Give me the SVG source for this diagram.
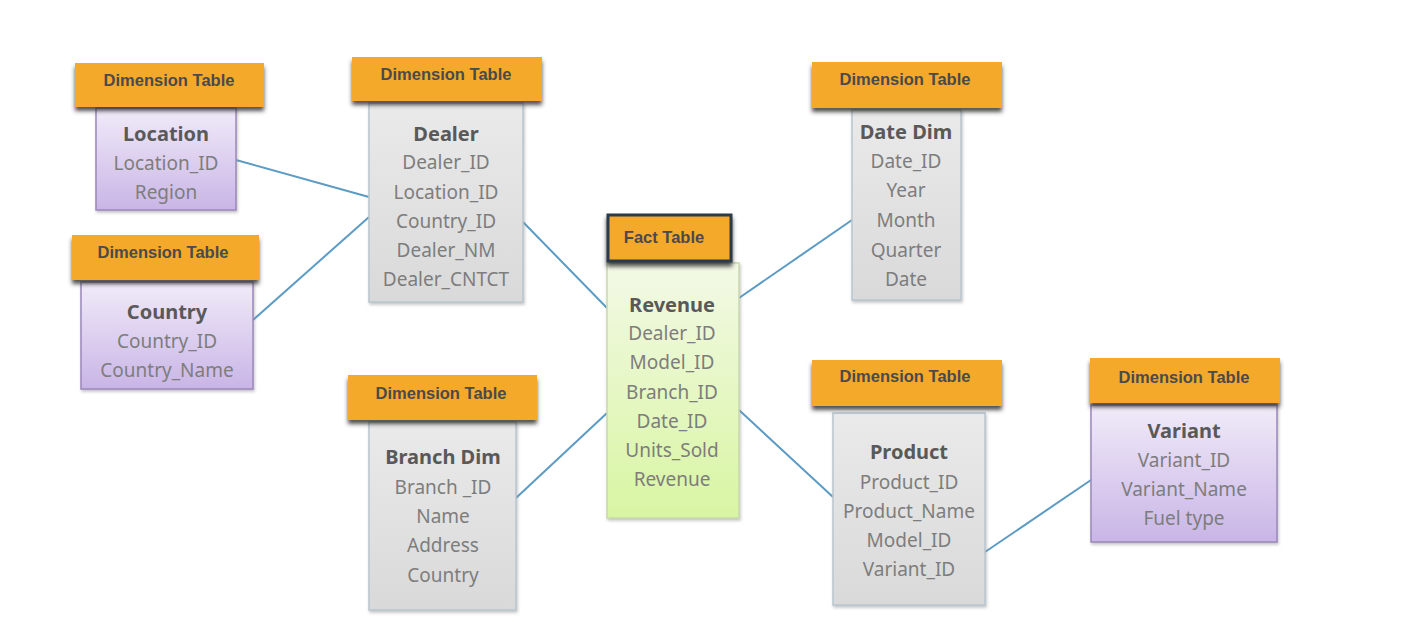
<svg xmlns="http://www.w3.org/2000/svg" width="1428" height="626" viewBox="0 0 1428 626">
<defs>
<linearGradient id="gGray" x1="0" y1="0" x2="0" y2="1"><stop offset="0" stop-color="#eaeaea"/><stop offset="1" stop-color="#d9d9d9"/></linearGradient>
<linearGradient id="gPurple" x1="0" y1="0" x2="0" y2="1"><stop offset="0" stop-color="#f1ebf9"/><stop offset="1" stop-color="#c9b5e6"/></linearGradient>
<linearGradient id="gGreen" x1="0" y1="0" x2="0" y2="1"><stop offset="0" stop-color="#f3f9e6"/><stop offset="1" stop-color="#d8f5a2"/></linearGradient>
<filter id="sh" x="-10%" y="-20%" width="125%" height="160%"><feDropShadow dx="0" dy="4" stdDeviation="2" flood-color="#333" flood-opacity="0.85"/></filter>
<filter id="bs" x="-10%" y="-10%" width="125%" height="125%"><feDropShadow dx="1" dy="2" stdDeviation="1.5" flood-color="#888" flood-opacity="0.5"/></filter>
</defs>
<style>
.hdr{fill:#f5a92a;filter:url(#sh)}
.hdrf{fill:#f5a92a;stroke:#2b3a48;stroke-width:3;filter:url(#sh)}
.ht{font-family:"Liberation Sans",Arial,sans-serif;font-weight:bold;font-size:16.5px;fill:#4a4a4a;text-anchor:middle}
.gray{fill:url(#gGray);stroke:#b9c6cf;stroke-width:1.5;filter:url(#bs)}
.purple{fill:url(#gPurple);stroke:#9b88bb;stroke-width:1.5;filter:url(#bs)}
.green{fill:url(#gGreen);stroke:#c9d9b0;stroke-width:1.5;filter:url(#bs)}
.tt{font-family:"Noto Sans","Open Sans",sans-serif;font-weight:bold;font-size:20px;fill:#595959;text-anchor:middle}
.ft{font-family:"Noto Sans","Open Sans",sans-serif;font-size:19px;fill:#7d7d7d;text-anchor:middle}
.con{stroke:#5b9bc4;stroke-width:2;fill:none}
</style>
<rect width="1428" height="626" fill="#ffffff"/>
<g id="connectors">
<line class="con" x1="236" y1="160" x2="369" y2="197"/>
<line class="con" x1="253" y1="320" x2="369" y2="217"/>
<line class="con" x1="523" y1="222" x2="607" y2="308"/>
<line class="con" x1="516" y1="498" x2="607" y2="413"/>
<line class="con" x1="739" y1="298" x2="852" y2="220"/>
<line class="con" x1="739" y1="410" x2="833" y2="497"/>
<line class="con" x1="985" y1="552" x2="1091" y2="480"/>
</g>
<g id="location">
<rect class="purple" x="96" y="108" width="140" height="102"/>
<rect class="hdr" x="75" y="63" width="189" height="44"/>
<text class="ht" x="169" y="86">Dimension Table</text>
<text class="tt" x="166" y="141">Location</text>
<text class="ft" x="166" y="170">Location_ID</text>
<text class="ft" x="166" y="199">Region</text>
</g>
<g id="country">
<rect class="purple" x="81" y="282" width="172" height="107"/>
<rect class="hdr" x="72" y="235" width="187" height="45"/>
<text class="ht" x="163" y="258">Dimension Table</text>
<text class="tt" x="167" y="319">Country</text>
<text class="ft" x="167" y="348">Country_ID</text>
<text class="ft" x="167" y="377">Country_Name</text>
</g>
<g id="dealer">
<rect class="gray" x="369" y="103" width="154" height="199"/>
<rect class="hdr" x="352" y="57" width="190" height="44"/>
<text class="ht" x="446" y="80">Dimension Table</text>
<text class="tt" x="446" y="141">Dealer</text>
<text class="ft" x="446" y="169">Dealer_ID</text>
<text class="ft" x="446" y="199">Location_ID</text>
<text class="ft" x="446" y="228">Country_ID</text>
<text class="ft" x="446" y="257">Dealer_NM</text>
<text class="ft" x="446" y="286">Dealer_CNTCT</text>
</g>
<g id="fact">
<rect class="green" x="607" y="263" width="132" height="255"/>
<rect class="hdrf" x="608" y="215" width="123" height="46"/>
<text class="ht" x="664" y="243">Fact Table</text>
<text class="tt" x="672" y="312">Revenue</text>
<text class="ft" x="672" y="340">Dealer_ID</text>
<text class="ft" x="672" y="369">Model_ID</text>
<text class="ft" x="672" y="399">Branch_ID</text>
<text class="ft" x="672" y="428">Date_ID</text>
<text class="ft" x="672" y="457">Units_Sold</text>
<text class="ft" x="672" y="486">Revenue</text>
</g>
<g id="datedim">
<rect class="gray" x="852" y="110" width="109" height="190"/>
<rect class="hdr" x="812" y="62" width="190" height="46"/>
<text class="ht" x="905" y="85">Dimension Table</text>
<text class="tt" x="906" y="139">Date Dim</text>
<text class="ft" x="906" y="168">Date_ID</text>
<text class="ft" x="906" y="197">Year</text>
<text class="ft" x="906" y="227">Month</text>
<text class="ft" x="906" y="257">Quarter</text>
<text class="ft" x="906" y="286">Date</text>
</g>
<g id="branch">
<rect class="gray" x="369" y="422" width="147" height="188"/>
<rect class="hdr" x="348" y="375" width="189" height="45"/>
<text class="ht" x="441" y="399">Dimension Table</text>
<text class="tt" x="443" y="464">Branch Dim</text>
<text class="ft" x="443" y="494">Branch _ID</text>
<text class="ft" x="443" y="523">Name</text>
<text class="ft" x="443" y="552">Address</text>
<text class="ft" x="443" y="582">Country</text>
</g>
<g id="product">
<rect class="gray" x="833" y="413" width="152" height="192"/>
<rect class="hdr" x="812" y="360" width="190" height="46"/>
<text class="ht" x="905" y="382">Dimension Table</text>
<text class="tt" x="909" y="459">Product</text>
<text class="ft" x="909" y="489">Product_ID</text>
<text class="ft" x="909" y="518">Product_Name</text>
<text class="ft" x="909" y="547">Model_ID</text>
<text class="ft" x="909" y="576">Variant_ID</text>
</g>
<g id="variant">
<rect class="purple" x="1091" y="405" width="186" height="137"/>
<rect class="hdr" x="1090" y="358" width="190" height="45"/>
<text class="ht" x="1184" y="383">Dimension Table</text>
<text class="tt" x="1184" y="438">Variant</text>
<text class="ft" x="1184" y="467">Variant_ID</text>
<text class="ft" x="1184" y="496">Variant_Name</text>
<text class="ft" x="1184" y="525">Fuel type</text>
</g>
</svg>
